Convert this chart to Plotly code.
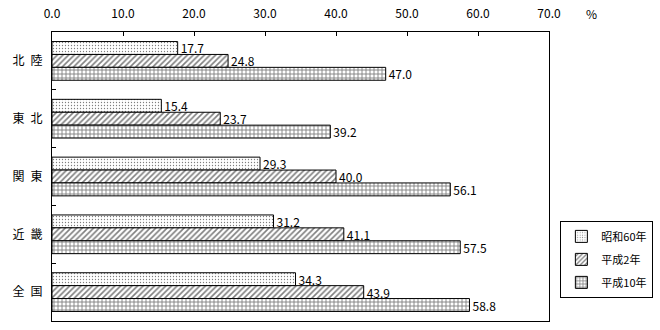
import plotly.graph_objects as go

regions = ["北\u2002陸", "東\u2002北", "関\u2002東", "近\u2002畿", "全\u2002国"]
series_names = ["昭和60年", "平成2年", "平成10年"]
s60 = [17.7, 15.4, 29.3, 31.2, 34.3]
h2 = [24.8, 23.7, 40.0, 41.1, 43.9]
h10 = [47.0, 39.2, 56.1, 57.5, 58.8]
x_ticks = [0, 10, 20, 30, 40, 50, 60, 70]
x_tick_labels = ["0.0", "10.0", "20.0", "30.0", "40.0", "50.0", "60.0", "70.0"]

FONT = "Noto Sans CJK JP, DejaVu Sans, sans-serif"
patterns = [dict(shape=".", size=3, solidity=0.15),
            dict(shape="/", size=4, solidity=0.4),
            dict(shape="+", size=4, solidity=0.4)]

fig = go.Figure()
for i, (name, vals) in enumerate(zip(series_names, [s60, h2, h10])):
    fig.add_trace(go.Bar(
        y=regions, x=vals, name=name, orientation="h",
        marker=dict(color="white", line=dict(color="black", width=1),
                    pattern=dict(fgcolor="black", bgcolor="white", **patterns[i])),
        text=[f"{v:.1f}" for v in vals], textposition="outside",
        textfont=dict(family=FONT, size=12, color="black"),
        constraintext="none", textangle=0,
        cliponaxis=False, legendgroup=str(i),
    ))

fig.update_layout(
    width=660, height=330,
    margin=dict(l=52, r=111, t=32, b=9, autoexpand=False),
    paper_bgcolor="white", plot_bgcolor="white",
    barmode="group", bargap=0.33, bargroupgap=0,
    font=dict(family=FONT, size=12, color="black"),
    showlegend=True,
    legend=dict(x=1.21, y=0.08, xanchor="right", yanchor="bottom",
                bordercolor="black", borderwidth=1, bgcolor="white",
                font=dict(family=FONT, size=11), traceorder="grouped",
                tracegroupgap=4, itemwidth=30),
    xaxis=dict(range=[0, 70], side="top", tickvals=x_ticks, ticktext=x_tick_labels,
               showgrid=False, zeroline=False, showline=True, linecolor="black",
               linewidth=1, mirror=True, ticks="inside", ticklen=4, tickcolor="black",
               ticklabelstandoff=8, fixedrange=True),
    yaxis=dict(autorange="reversed", showgrid=False, showline=True, linecolor="black",
               linewidth=1, mirror=True, ticks="inside", ticklen=4, tickcolor="black",
               tickson="boundaries", ticklabelstandoff=6),
    annotations=[dict(text="%", xref="paper", yref="paper", x=1.07, y=1.0,
                      yshift=19, xanchor="left", yanchor="middle", showarrow=False,
                      font=dict(family=FONT, size=12))],
)

fig.write_html("out.html")
